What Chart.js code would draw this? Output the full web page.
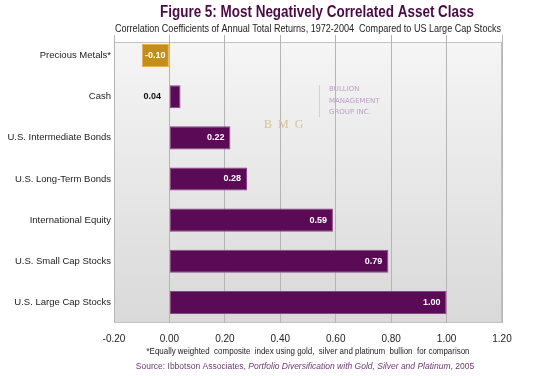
<!DOCTYPE html>
<html>
<head>
<meta charset="utf-8">
<script src="https://cdn.jsdelivr.net/npm/chart.js@4.4.1/dist/chart.umd.min.js"></script>
<style>
  html, body { margin: 0; padding: 0; background: #ffffff; }
  #wrap { width: 550px; height: 376px; position: relative; }
</style>
</head>
<body>
<div id="wrap"><canvas id="chart" width="550" height="376"></canvas></div>
<script>
const categories = [
  "Precious Metals*",
  "Cash",
  "U.S. Intermediate Bonds",
  "U.S. Long-Term Bonds",
  "International Equity",
  "U.S. Small Cap Stocks",
  "U.S. Large Cap Stocks",
];
const correlations = [-0.10, 0.04, 0.22, 0.28, 0.59, 0.79, 1.00];
const xTicks = [-0.2, 0, 0.2, 0.4, 0.6, 0.8, 1.0, 1.2];

const titleText = "Figure 5: Most Negatively Correlated Asset Class";
const subtitleText = "Correlation Coefficients of Annual Total Returns, 1972-2004  Compared to US Large Cap Stocks";
const footnoteText = "*Equally weighted  composite  index using gold,  silver and platinum  bullion  for comparison";
const sourceParts = [
  { text: "Source: Ibbotson Associates, ", italic: false },
  { text: "Portfolio Diversification with Gold, Silver and Platinum", italic: true },
  { text: ", 2005", italic: false },
];

const FONT = "'Liberation Sans', Arial, sans-serif";
const PURPLE = "#5b0b56";
const GOLD = "#c48d1e";

const barColors = correlations.map((v) => (v < 0 ? GOLD : PURPLE));
const barBorders = correlations.map((v) => (v < 0 ? "#e2b34a" : "#8c4486"));

// plot wall: light grey gradient + frame
const wallPlugin = {
  id: "wall",
  beforeDraw(chart) {
    const { ctx, chartArea: a } = chart;
    const top = 42;
    const g = ctx.createLinearGradient(0, top, 0, a.bottom);
    g.addColorStop(0, "#f5f5f5");
    g.addColorStop(1, "#d9d9d9");
    ctx.save();
    ctx.fillStyle = g;
    ctx.fillRect(a.left, top, a.right - a.left, a.bottom - top);
    ctx.strokeStyle = "#c2c2c2";
    ctx.lineWidth = 1;
    ctx.strokeRect(a.left + 0.5, top + 0.5, a.right - a.left - 1, a.bottom - top - 1);
    ctx.restore();
  },
};

// BMG watermark and all the text around the plot
const decorPlugin = {
  id: "decor",
  beforeDatasetsDraw(chart) {
    const { ctx } = chart;
    ctx.save();
    ctx.fillStyle = "#b9a0c2";
    ctx.font = "7px 'DejaVu Sans', sans-serif";
    ctx.textBaseline = "middle";
    ctx.textAlign = "left";
    ctx.fillText("BULLION", 329, 89);
    ctx.fillText("MANAGEMENT", 329, 101);
    ctx.fillText("GROUP INC.", 329, 112);
    ctx.strokeStyle = "#ddd2b8";
    ctx.beginPath();
    ctx.moveTo(319.5, 85);
    ctx.lineTo(319.5, 117);
    ctx.stroke();
    ctx.fillStyle = "#d4c394";
    ctx.font = "12px 'Liberation Serif', serif";
    ctx.fillText("B  M  G", 264, 125);
    ctx.restore();
  },
  afterDraw(chart) {
    const { ctx } = chart;
    ctx.save();
    ctx.textAlign = "center";
    ctx.textBaseline = "middle";
    ctx.fillStyle = "#4b0a45";
    ctx.font = "bold 16px " + FONT;
    ctx.fillText(titleText, 317, 13, 314);
    ctx.fillStyle = "#222222";
    ctx.font = "10px " + FONT;
    ctx.fillText(subtitleText, 308, 29, 386);
    ctx.font = "9px " + FONT;
    ctx.fillText(footnoteText, 308, 352, 323);

    // source line, mixed italic
    ctx.fillStyle = "#6b3b72";
    ctx.textAlign = "left";
    const widths = sourceParts.map((p) => {
      ctx.font = (p.italic ? "italic " : "") + "8.5px " + FONT;
      return ctx.measureText(p.text).width;
    });
    const total = widths.reduce((s, w) => s + w, 0);
    let x = 305 - total / 2;
    sourceParts.forEach((p, i) => {
      ctx.font = (p.italic ? "italic " : "") + "8.5px " + FONT;
      ctx.fillText(p.text, x, 367);
      x += widths[i];
    });
    ctx.restore();
  },
};

// value labels on the bars
const valueLabelPlugin = {
  id: "valueLabels",
  afterDatasetsDraw(chart) {
    const { ctx } = chart;
    const meta = chart.getDatasetMeta(0);
    ctx.save();
    ctx.font = "bold 9px " + FONT;
    ctx.textBaseline = "middle";
    meta.data.forEach((bar, i) => {
      const v = correlations[i];
      const label = v.toFixed(2);
      const left = Math.min(bar.x, bar.base);
      const right = Math.max(bar.x, bar.base);
      if (v < 0) {
        ctx.fillStyle = "#ffffff";
        ctx.textAlign = "center";
        ctx.fillText(label, (left + right) / 2, bar.y);
      } else if (right - left < 30) {
        ctx.fillStyle = "#111111";
        ctx.textAlign = "right";
        ctx.fillText(label, left - 9, bar.y);
      } else {
        ctx.fillStyle = "#ffffff";
        ctx.textAlign = "right";
        ctx.fillText(label, right - 6, bar.y);
      }
    });
    ctx.restore();
  },
};

new Chart(document.getElementById("chart"), {
  type: "bar",
  data: {
    labels: categories,
    datasets: [
      {
        data: correlations,
        backgroundColor: barColors,
        borderColor: barBorders,
        borderWidth: 1,
        borderSkipped: false,
        barPercentage: 0.56,
        categoryPercentage: 1,
      },
    ],
  },
  options: {
    indexAxis: "y",
    responsive: false,
    animation: false,
    layout: { padding: { top: 35, right: 48, left: 0, bottom: 0 } },
    plugins: {
      legend: { display: false },
      tooltip: { enabled: false },
      title: { display: false },
    },
    scales: {
      x: {
        min: -0.2,
        max: 1.2,
        afterBuildTicks: (scale) => {
          scale.ticks = xTicks.map((v) => ({ value: v }));
        },
        afterFit: (scale) => {
          scale.height = 53;
        },
        ticks: {
          color: "#222222",
          font: { family: FONT, size: 10 },
          padding: 10,
          callback: (v) => Number(v).toFixed(2),
        },
        grid: { color: "#b5b5b5", drawTicks: false },
        border: { display: false },
      },
      y: {
        afterFit: (scale) => {
          scale.width = 114;
        },
        ticks: {
          color: "#222222",
          font: { family: FONT, size: 9.5 },
          padding: 3,
        },
        grid: { display: false, drawTicks: false },
        border: { display: false },
      },
    },
  },
  plugins: [wallPlugin, decorPlugin, valueLabelPlugin],
});
</script>
</body>
</html>
